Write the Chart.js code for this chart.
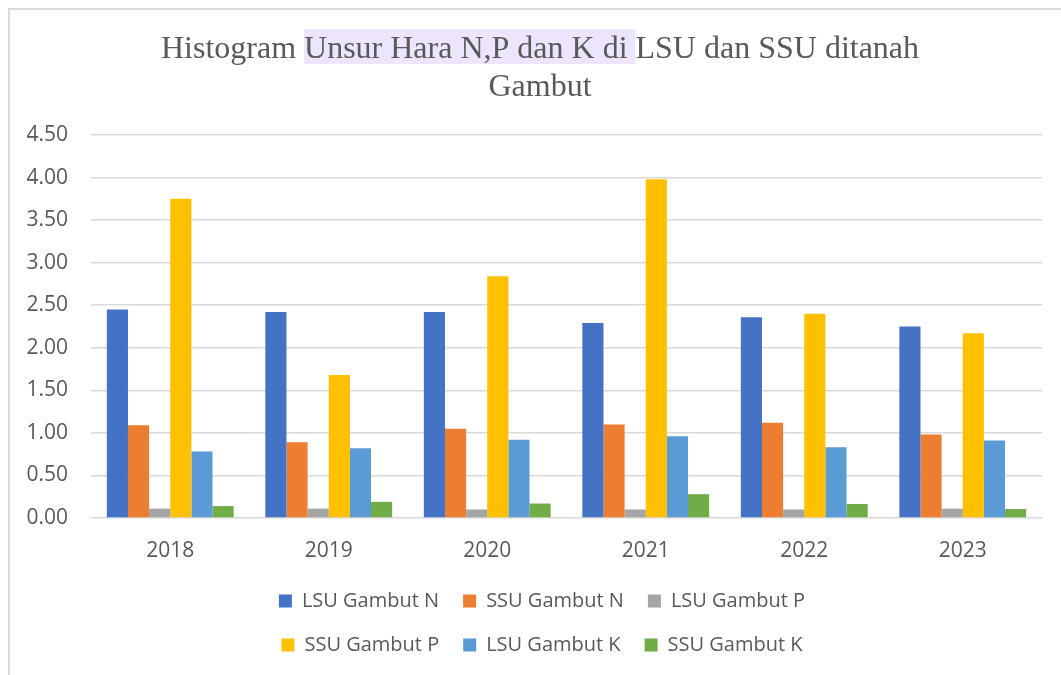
<!DOCTYPE html>
<html>
<head>
<meta charset="utf-8">
<script src="https://cdn.jsdelivr.net/npm/chart.js@4"></script>
<style>
    html, body { margin: 0; padding: 0; background: #fff; overflow: hidden; }
    .wrap { position: relative; width: 1061px; height: 675px; }
</style>
</head>
<body>
<div class="wrap"><canvas class="myChart"></canvas></div>
<script>
const years = ['2018', '2019', '2020', '2021', '2022', '2023'];
const seriesNames = ['LSU Gambut N', 'SSU Gambut N', 'LSU Gambut P', 'SSU Gambut P', 'LSU Gambut K', 'SSU Gambut K'];
const lsuN = [2.45, 2.42, 2.42, 2.29, 2.36, 2.25];
const ssuN = [1.09, 0.89, 1.05, 1.10, 1.12, 0.98];
const lsuP = [0.11, 0.11, 0.10, 0.10, 0.10, 0.11];
const ssuP = [3.75, 1.68, 2.84, 3.98, 2.40, 2.17];
const lsuK = [0.78, 0.82, 0.92, 0.96, 0.83, 0.91];
const ssuK = [0.14, 0.19, 0.17, 0.28, 0.165, 0.105];
const titleParts = ['Histogram ', 'Unsur Hara N,P dan K di ', 'LSU dan SSU ditanah'];
const titleLine2 = 'Gambut';

const colors = ['#4472C4', '#ED7D31', '#A5A5A5', '#FFC000', '#5B9BD5', '#70AD47'];
const values = [lsuN, ssuN, lsuP, ssuP, lsuK, ssuK];
const textColor = '#595959';
const legendWidth = 640;

// frame + title with the highlighted part
const decor = {
    id: 'decor',
    beforeLayout(chart) {
        // legend rows break after three items, like the original
        const lg = chart.legend;
        if (lg && !lg._patched) {
            const origRows = lg._fitRows;
            lg._fitRows = function (...args) {
                const mw = this.maxWidth;
                this.maxWidth = legendWidth;
                const r = origRows.apply(this, args);
                this.maxWidth = mw;
                return r;
            };
            const origDraw = lg.draw;
            lg.draw = function (...args) {
                const l = this.left, r = this.right;
                const c = (l + r) / 2;
                this.left = c - legendWidth / 2;
                this.right = c + legendWidth / 2;
                origDraw.apply(this, args);
                this.left = l;
                this.right = r;
            };
            lg._patched = true;
        }
    },
    beforeDraw(chart) {
        const ctx = chart.ctx;
        ctx.save();
        ctx.strokeStyle = '#d9d9d9';
        ctx.lineWidth = 2;
        ctx.beginPath();
        ctx.moveTo(9, 675);
        ctx.lineTo(9, 9);
        ctx.lineTo(1061, 9);
        ctx.stroke();

        const cx = 540;
        ctx.font = '32px "Liberation Serif", "Times New Roman", serif';
        const full = titleParts.join('');
        const total = ctx.measureText(full).width;
        const left = cx - total / 2;
        const hlStart = left + ctx.measureText(titleParts[0]).width;
        const hlW = ctx.measureText(titleParts[1]).width;
        ctx.fillStyle = '#ede5fd';
        ctx.fillRect(hlStart, 29, hlW, 35);

        ctx.fillStyle = textColor;
        ctx.textBaseline = 'alphabetic';
        ctx.textAlign = 'left';
        ctx.fillText(full, left, 58);
        ctx.textAlign = 'center';
        ctx.fillText(titleLine2, cx, 96);
        ctx.restore();
    }
};

const data = {
    labels: years,
    datasets: seriesNames.map((name, i) => ({
        label: name,
        data: values[i],
        backgroundColor: colors[i],
        borderWidth: 0,
        yAxisID: 'y'
    }))
};

const config = {
    type: 'bar',
    data: data,
    plugins: [decor],
    options: {
        responsive: false,
        animation: false,
        layout: {
            padding: { top: 135, left: 23, right: 0, bottom: 10 }
        },
        datasets: {
            bar: { categoryPercentage: 0.8, barPercentage: 1 }
        },
        scales: {
            x: {
                grid: { display: false, drawTicks: false },
                border: { display: false },
                ticks: {
                    color: textColor,
                    padding: 20,
                    font: { family: '"Open Sans"', size: 21 }
                },
                afterFit(s) { s.height = 49; }
            },
            y: {
                min: 0,
                max: 4.5,
                grid: { color: '#d9d9d9', lineWidth: 1.5, drawTicks: false },
                border: { display: false },
                ticks: {
                    stepSize: 0.5,
                    color: textColor,
                    padding: 23,
                    font: { family: '"Open Sans"', size: 21 },
                    callback: (v) => Number(v).toFixed(2)
                },
                afterFit(s) { s.width = 68; }
            },
            // empty right axis, only keeps the plot area off the right edge
            y2: {
                position: 'right',
                display: true,
                grid: { display: false, drawTicks: false },
                border: { display: false },
                ticks: { display: false },
                afterFit(s) { s.width = 19; }
            }
        },
        plugins: {
            title: { display: false },
            tooltip: { enabled: false },
            legend: {
                position: 'bottom',
                labels: {
                    color: textColor,
                    boxWidth: 13,
                    boxHeight: 13,
                    padding: 24,
                    font: { family: '"Open Sans"', size: 20 }
                }
            }
        }
    }
};

const canvas = document.querySelector('.myChart');
canvas.width = 1061;
canvas.height = 675;
// eslint-disable-next-line no-undef
const myChart = new Chart(canvas, config);
</script>
</body>
</html>
